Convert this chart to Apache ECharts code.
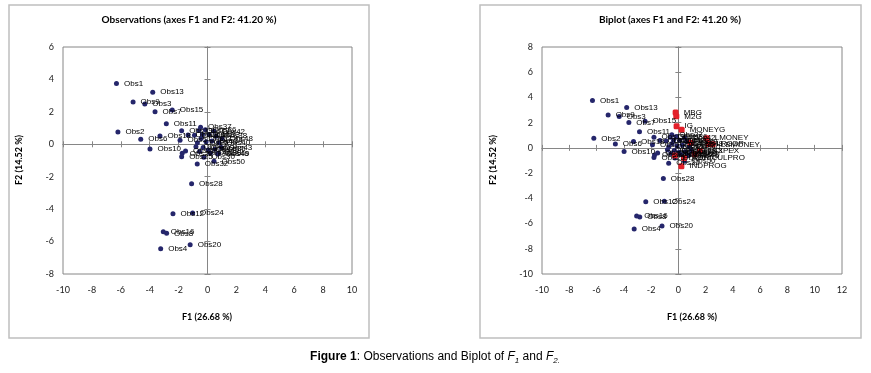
<!DOCTYPE html>
<html><head><meta charset="utf-8">
<script src="https://cdn.jsdelivr.net/npm/echarts@6/dist/echarts.min.js"></script>
<style>html,body{margin:0;padding:0;background:#fff}#c{width:871px;height:373px}</style>
</head><body><div id="c"></div>
<script>
// ---- data ----
const obsNames = ['Obs1','Obs2','Obs3','Obs4','Obs5','Obs6','Obs7','Obs8','Obs9','Obs10',
  'Obs11','Obs12','Obs13','Obs14','Obs15','Obs16','Obs17','Obs18','Obs19','Obs20',
  'Obs21','Obs22','Obs23','Obs24','Obs25','Obs26','Obs27','Obs28','Obs29','Obs30',
  'Obs31','Obs32','Obs33','Obs34','Obs35','Obs36','Obs37','Obs38','Obs39','Obs40',
  'Obs41','Obs42','Obs43','Obs44','Obs45','Obs46','Obs47','Obs48','Obs49','Obs50'];
const obsF1 = [-6.30,-6.20,-4.34,-3.24,-1.90,-4.62,-3.63,-2.83,-5.15,-3.98,
  -2.85,-2.39,-3.79,-0.90,-2.44,-3.06,-0.60,-3.29,-1.79,-1.20,
  -1.35,-1.75,-1.52,-1.03,-1.79,-0.70,-0.45,-1.10,-0.30,-0.25,
  -0.55,-0.71,0.10,0.30,0.50,-0.15,-0.48,0.60,0.20,0.80,
  -0.10,0.45,0.95,-0.80,0.05,0.70,-0.35,1.00,0.76,0.45];
const obsF2 = [3.75,0.76,2.49,-6.44,0.25,0.31,2.01,-5.49,2.61,-0.29,
  1.27,-4.28,3.21,0.55,2.12,-5.40,0.85,0.51,0.84,-6.20,
  0.58,-0.56,-0.41,-4.24,-0.77,0.10,0.35,-2.43,-0.20,-0.80,
  -0.45,-1.22,0.60,0.20,-0.30,0.90,1.05,0.50,-0.55,0.10,
  0.15,0.80,-0.20,-0.15,-0.35,-0.60,0.60,0.35,-0.56,-1.05];
const varNames = ['MBG','M2G','IG','MONEYG','LMONEY','LRGDP','LBMONEY','LEXPEX','AGRICULPRO','INDPROG','CPI','EXR','TOT'];
const varF1 = [-0.20,-0.15,-0.13,0.24,2.08,2.20,2.52,1.58,0.41,0.22,-0.25,0.90,1.20];
const varF2 = [2.80,2.50,1.72,1.44,0.77,0.30,0.28,-0.22,-0.80,-1.45,-0.60,0.40,-0.50];
const leftX = [-10, 10], leftY = [-8, 6];
const rightX = [-10, 12], rightY = [-10, 8];
const tickStep = 2;
const leftTitle = 'Observations (axes F1 and F2: 41.20 %)';
const rightTitle = 'Biplot (axes F1 and F2: 41.20 %)';
const xName = 'F1 (26.68 %)', yName = 'F2 (14.52 %)';

// ---- chart ----
const axisCol = '#868686';
function labelAxis(g, r, pos) {
  return {type:'value', gridIndex:g, min:r[0], max:r[1], interval:tickStep, position:pos,
    axisLine:{show:false, onZero:false}, axisTick:{show:false}, splitLine:{show:false},
    axisLabel:{show:true, margin: pos==='bottom'?12:9, fontSize:9, color:'#222', fontFamily:'Lato'}};
}
function zeroAxis(g, r, pos, other, inside) {
  return {type:'value', gridIndex:g, min:r[0], max:r[1], interval:tickStep, position:pos,
    axisLine:{show:true, onZero:true, onZeroAxisIndex:other, lineStyle:{color:axisCol, width:1}},
    axisTick:{show:true, inside:inside, length:3, lineStyle:{color:axisCol, width:1}},
    axisLabel:{show:false}, splitLine:{show:false}};
}
const lab = {show:true, position:'right', distance:5, formatter:'{b}', fontSize:8,
  fontFamily:'Liberation Sans', color:'#000'};
const toData = (n, a, b) => n.map((s, i) => ({name:s, value:[a[i], b[i]]}));

const font = 'Lato';
const option = {
  animation:false,
  grid:[
    {left:63, top:47, width:289, height:227, show:true, borderColor:axisCol, borderWidth:1, containLabel:false, outerBoundsMode:'none'},
    {left:542, top:47, width:300, height:227, show:true, borderColor:axisCol, borderWidth:1, containLabel:false, outerBoundsMode:'none'}
  ],
  xAxis:[
    labelAxis(0, leftX, 'bottom'), zeroAxis(0, leftX, 'bottom', 0, true), zeroAxis(0, leftX, 'bottom', 0, false),
    labelAxis(1, rightX, 'bottom'), zeroAxis(1, rightX, 'bottom', 3, true), zeroAxis(1, rightX, 'bottom', 3, false)
  ],
  yAxis:[
    labelAxis(0, leftY, 'left'), zeroAxis(0, leftY, 'left', 0, true), zeroAxis(0, leftY, 'left', 0, false),
    labelAxis(1, rightY, 'left'), zeroAxis(1, rightY, 'left', 3, true), zeroAxis(1, rightY, 'left', 3, false)
  ],
  series:[
    {type:'scatter', xAxisIndex:0, yAxisIndex:0, symbol:'circle', symbolSize:5, silent:true,
     itemStyle:{color:'#25266b', opacity:1}, label:lab, data:toData(obsNames, obsF1, obsF2)},
    {type:'scatter', xAxisIndex:3, yAxisIndex:3, symbol:'circle', symbolSize:5, silent:true,
     itemStyle:{color:'#25266b', opacity:1}, label:lab, data:toData(obsNames, obsF1, obsF2)},
    {type:'scatter', xAxisIndex:3, yAxisIndex:3, symbol:'roundRect', symbolSize:6, silent:true,
     itemStyle:{color:'#e3202a', opacity:1}, label:lab, data:toData(varNames, varF1, varF2)}
  ],
  graphic:[
    {type:'rect', silent:true, shape:{x:9, y:5, width:360, height:333}, style:{fill:'none', stroke:'#bfbfbf', lineWidth:1.5}},
    {type:'rect', silent:true, shape:{x:480, y:5, width:381, height:333}, style:{fill:'none', stroke:'#bfbfbf', lineWidth:1.5}},
    {type:'text', x:189, y:20, style:{text:leftTitle, fontSize:10, fontWeight:'bold', fontFamily:font, fill:'#000', align:'center', verticalAlign:'middle'}},
    {type:'text', x:670, y:20, style:{text:rightTitle, fontSize:10, fontWeight:'bold', fontFamily:font, fill:'#000', align:'center', verticalAlign:'middle'}},
    {type:'text', x:207, y:317, style:{text:xName, fontSize:9, fontWeight:'bold', fontFamily:font, fill:'#000', align:'center', verticalAlign:'middle'}},
    {type:'text', x:692, y:317, style:{text:xName, fontSize:9, fontWeight:'bold', fontFamily:font, fill:'#000', align:'center', verticalAlign:'middle'}},
    {type:'text', x:19, y:160, rotation:Math.PI/2, style:{text:yName, fontSize:9, fontWeight:'bold', fontFamily:font, fill:'#000', align:'center', verticalAlign:'middle'}},
    {type:'text', x:493, y:160, rotation:Math.PI/2, style:{text:yName, fontSize:9, fontWeight:'bold', fontFamily:font, fill:'#000', align:'center', verticalAlign:'middle'}},
    {type:'text', x:435, y:357, style:{
      text:'{b|Figure 1}{n|: Observations and Biplot of }{i|F}{s|1}{n| and }{i|F}{s|2.}',
      fontSize:12, fontFamily:'Liberation Sans', fill:'#000', align:'center', verticalAlign:'middle',
      rich:{
        b:{fontSize:12, fontFamily:'Liberation Sans', fontWeight:'bold', lineHeight:16, fill:'#000'},
        n:{fontSize:12, fontFamily:'Liberation Sans', lineHeight:16, fill:'#000'},
        i:{fontSize:12, fontFamily:'Liberation Sans', fontStyle:'italic', lineHeight:16, fill:'#000'},
        s:{fontSize:8, fontFamily:'Liberation Sans', fontStyle:'italic', lineHeight:8, verticalAlign:'bottom', fill:'#000'}
      }}}
  ]
};
const chart = echarts.init(document.getElementById('c'), null, {renderer:'canvas'});
chart.setOption(option);
</script></body></html>
